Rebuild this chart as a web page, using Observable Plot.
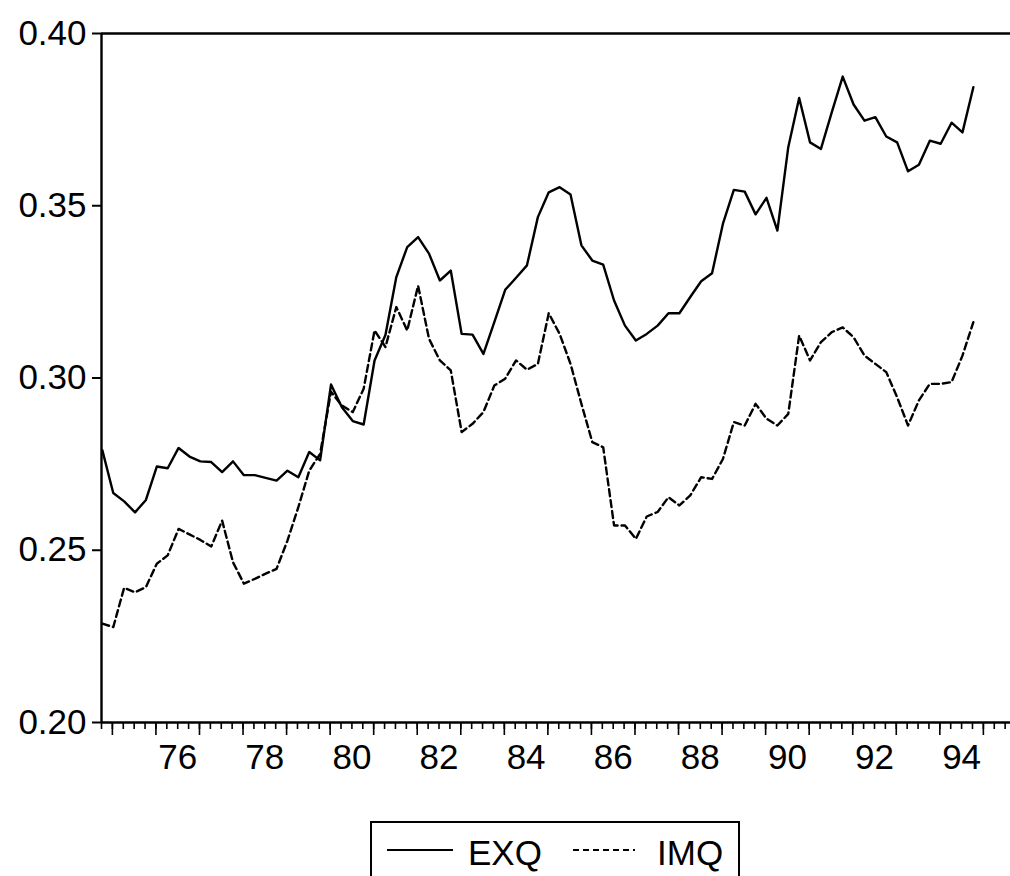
<!DOCTYPE html>
<html><head><meta charset="utf-8">
<script src="https://cdn.jsdelivr.net/npm/d3@7"></script>
<script src="https://cdn.jsdelivr.net/npm/@observablehq/plot@0.6"></script>
<style>
body{margin:0;background:#fff;font-family:"Liberation Sans",Arial,sans-serif;}
#wrap{position:relative;width:1010px;height:876px;overflow:hidden;background:#fff;}
#legend{position:absolute;left:370px;top:821px;width:366px;height:80px;border:2px solid #000;}
</style></head><body><div id="wrap"><div id="chart"></div><div id="legend"></div></div>
<script>
// Quarterly data, 1974Q4 .. 1994Q4
const startYear = 1974, startQuarter = 4;
const exq = [
0.2790,0.2666,0.2642,0.2610,0.2646,0.2743,0.2738,0.2797,0.2772,0.2758,
0.2756,0.2727,0.2758,0.2718,0.2718,0.2710,0.2702,0.2731,0.2712,0.2785,
0.2761,0.2981,0.2915,0.2875,0.2865,0.3051,0.3125,0.3293,0.3380,0.3409,
0.3361,0.3283,0.3312,0.3128,0.3126,0.3070,0.3162,0.3256,0.3291,0.3327,
0.3467,0.3539,0.3554,0.3533,0.3385,0.3341,0.3329,0.3225,0.3152,0.3109,
0.3128,0.3152,0.3188,0.3188,0.3235,0.3281,0.3304,0.3448,0.3546,0.3541,
0.3475,0.3523,0.3428,0.3670,0.3813,0.3684,0.3665,0.3772,0.3875,0.3794,
0.3747,0.3757,0.3701,0.3684,0.3600,0.3619,0.3689,0.3680,0.3741,0.3713,
0.3844];
const imq = [
0.2287,0.2277,0.2391,0.2378,0.2393,0.2461,0.2485,0.2562,0.2546,0.2530,
0.2511,0.2586,0.2465,0.2403,0.2417,0.2432,0.2446,0.2528,0.2625,0.2731,
0.2780,0.2960,0.2920,0.2901,0.2969,0.3138,0.3090,0.3206,0.3138,0.3268,
0.3114,0.3051,0.3022,0.2843,0.2867,0.2901,0.2978,0.2998,0.3051,0.3024,
0.3041,0.3188,0.3128,0.3041,0.2925,0.2814,0.2799,0.2572,0.2572,0.2533,
0.2598,0.2611,0.2654,0.2630,0.2659,0.2712,0.2707,0.2765,0.2872,0.2862,
0.2925,0.2882,0.2862,0.2896,0.3123,0.3051,0.3104,0.3133,0.3147,0.3118,
0.3065,0.3041,0.3017,0.2944,0.2862,0.2935,0.2983,0.2983,0.2988,0.3065,
0.3162];
const seriesNames = ["EXQ", "IMQ"];
const yTicks = [0.20, 0.25, 0.30, 0.35, 0.40];
const xLabelYears = [1976, 1978, 1980, 1982, 1984, 1986, 1988, 1990, 1992, 1994];
const xLabels = ["76", "78", "80", "82", "84", "86", "88", "90", "92", "94"];

const t0 = startYear + (startQuarter - 1) / 4;   // 1974.75
const tOf = i => t0 + 0.02 + i / 4;
const rows = [];
exq.forEach((v, i) => rows.push({t: tOf(i), v, s: seriesNames[0]}));
imq.forEach((v, i) => rows.push({t: tOf(i), v, s: seriesNames[1]}));

const quarterTicks = d3.range(0, 84).map(k => t0 + k / 4);
const yearTicks = d3.range(1975, 1996);
const labelPos = xLabelYears.map(y => y + 0.5);

const chart = Plot.plot({
  width: 1010, height: 790,
  marginTop: 33, marginBottom: 68, marginLeft: 101, marginRight: 0,
  x: {domain: [t0, 1995.623], axis: null, label: null},
  y: {domain: [0.20, 0.40], axis: null, label: null},
  style: {fontFamily: "'Liberation Sans', Arial, sans-serif", fontSize: "35px", color: "#000", background: "#fff", overflow: "visible"},
  marks: [
    Plot.axisY(yTicks, {tickSize: 9, tickPadding: 6, strokeWidth: 2, tickFormat: d => d.toFixed(2), fontSize: 35, label: null}),
    Plot.axisX(quarterTicks, {tickSize: 7, strokeWidth: 1.6, tickFormat: () => "", label: null}),
    Plot.axisX(yearTicks, {tickSize: 13, strokeWidth: 1.6, tickFormat: () => "", label: null}),
    Plot.axisX(labelPos, {tickSize: 0, tickPadding: 22, tickFormat: d => xLabels[xLabelYears.indexOf(Math.floor(d))], fontSize: 35, label: null}),
    Plot.ruleY([0.20, 0.40], {stroke: "#000", strokeWidth: 2.4}),
    Plot.ruleX([t0], {stroke: "#000", strokeWidth: 2.4}),
    Plot.line(rows.filter(d => d.s === seriesNames[0]), {x: "t", y: "v", stroke: "#000", strokeWidth: 2.4}),
    Plot.line(rows.filter(d => d.s === seriesNames[1]), {x: "t", y: "v", stroke: "#000", strokeWidth: 2.4, strokeDasharray: "7,4"})
  ]
});
document.getElementById("chart").appendChild(chart);

// Legend
const leg = d3.select("#legend").append("svg").attr("width", 366).attr("height", 60)
  .style("font-family", "'Liberation Sans', Arial, sans-serif");
const items = [
  {name: seriesNames[0], dash: null, x1: 15, x2: 81, tx: 96},
  {name: seriesNames[1], dash: "6,4", x1: 201, x2: 263, tx: 285}
];
items.forEach(it => {
  leg.append("line").attr("x1", it.x1).attr("x2", it.x2).attr("y1", 27).attr("y2", 27)
    .attr("stroke", "#000").attr("stroke-width", 1.8).attr("stroke-dasharray", it.dash);
  leg.append("text").attr("x", it.tx).attr("y", 42).attr("font-size", 35).attr("fill", "#000").text(it.name);
});
</script></body></html>
